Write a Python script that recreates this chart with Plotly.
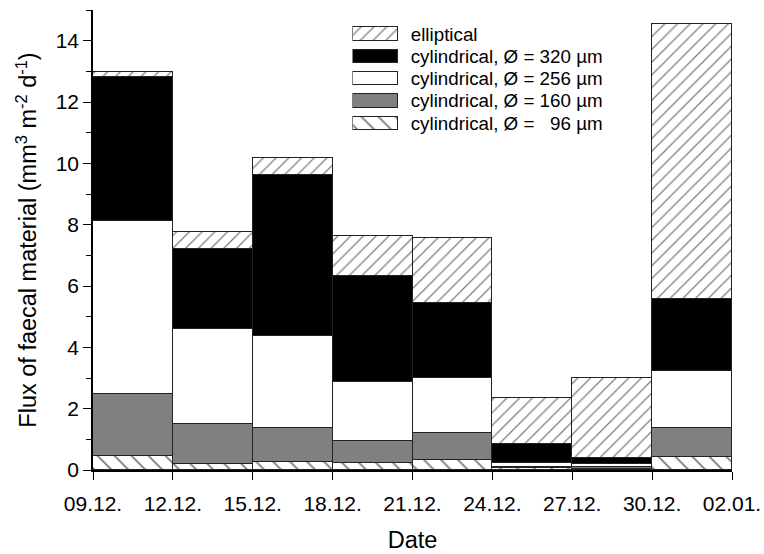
import plotly.graph_objects as go

# Sampling periods (3-day intervals) and their labels
period_start = [0, 3, 6, 9, 12, 15, 18, 21]
period_days = 3
tick_days = [0, 3, 6, 9, 12, 15, 18, 21, 24]
tick_labels = ["09.12.", "12.12.", "15.12.", "18.12.", "21.12.",
               "24.12.", "27.12.", "30.12.", "02.01."]

# Faecal material flux per pellet class (mm3 m-2 d-1)
cyl_96 = [0.47, 0.19, 0.25, 0.22, 0.32, 0.05, 0.04, 0.43]
cyl_160 = [2.01, 1.30, 1.13, 0.72, 0.89, 0.05, 0.06, 0.95]
cyl_256 = [5.63, 3.11, 3.00, 1.92, 1.79, 0.13, 0.10, 1.85]
cyl_320 = [4.71, 2.61, 5.25, 3.48, 2.43, 0.63, 0.19, 2.36]
elliptical = [0.15, 0.56, 0.53, 1.30, 2.13, 1.49, 2.61, 8.94]

series_names = ["cylindrical, Ø = \u00a0\u00a096 µm",
                "cylindrical, Ø = 160 µm",
                "cylindrical, Ø = 256 µm",
                "cylindrical, Ø = 320 µm",
                "elliptical"]
series_values = [cyl_96, cyl_160, cyl_256, cyl_320, elliptical]

FONT = "Liberation Sans, Arial, sans-serif"
EDGE = dict(color="#222222", width=1)


def marker_for(i):
    if i == 0:
        return dict(color="white", line=EDGE,
                    pattern=dict(shape="\\", fgcolor="black", bgcolor="white",
                                 size=12, solidity=0.16))
    if i == 1:
        return dict(color="#808080", line=EDGE)
    if i == 2:
        return dict(color="white", line=EDGE)
    if i == 3:
        return dict(color="black", line=EDGE)
    return dict(color="white", line=EDGE,
                pattern=dict(shape="/", fgcolor="black", bgcolor="white",
                             size=9, solidity=0.14))


centers = [s + period_days / 2 for s in period_start]

fig = go.Figure()
for i, (name, vals) in enumerate(zip(series_names, series_values)):
    fig.add_trace(go.Bar(
        x=centers, y=vals, width=period_days, name=name,
        marker=marker_for(i), showlegend=False,
    ))

# Legend drawn as a small horizontal-bar panel
for i, name in enumerate(series_names):
    fig.add_trace(go.Bar(
        x=[1], y=[i], base=0, orientation="h", width=0.6,
        marker=marker_for(i), xaxis="x2", yaxis="y2",
        showlegend=False, hoverinfo="skip",
    ))

fig.update_layout(
    width=764, height=554,
    margin=dict(l=92.7, r=31.5, t=10, b=83.5),
    paper_bgcolor="white", plot_bgcolor="white",
    barmode="stack", bargap=0,
    font=dict(family=FONT, size=21, color="black"),
    xaxis=dict(
        range=[0, 24], tickvals=tick_days, ticktext=tick_labels,
        ticks="outside", ticklen=8, tickwidth=1.2, tickcolor="black",
        ticklabelstandoff=6, automargin=False,
        showline=True, linecolor="black", linewidth=1.5,
        showgrid=False, zeroline=False,
        title=dict(text="Date", font=dict(size=23.5), standoff=18),
    ),
    yaxis=dict(
        range=[0, 15], tickvals=[0, 2, 4, 6, 8, 10, 12, 14],
        ticks="outside", ticklen=8, tickwidth=1.2, tickcolor="black",
        minor=dict(tickvals=[1, 3, 5, 7, 9, 11, 13, 15], ticks="outside",
                   ticklen=5, tickwidth=1.2, tickcolor="black"),
        showline=True, linecolor="black", linewidth=1.5,
        showgrid=False, zeroline=False, automargin=False,
        title=dict(text="Flux of faecal material (mm<sup>3</sup> m<sup>-2</sup> d<sup>-1</sup>)",
                   font=dict(size=23.5), standoff=12),
    ),
    xaxis2=dict(domain=[0.4060, 0.4800], range=[-0.03, 1.03], anchor="y2",
                visible=False, fixedrange=True, automargin=False),
    yaxis2=dict(domain=[0.7297, 0.9721], range=[-0.5, 4.5], anchor="x2",
                side="right", tickvals=list(range(len(series_names))),
                ticktext=series_names, ticks="", showline=False,
                showgrid=False, zeroline=False, ticklabelstandoff=10,
                tickfont=dict(size=18.8), fixedrange=True, automargin=False),
)

fig.write_html("out.html")
